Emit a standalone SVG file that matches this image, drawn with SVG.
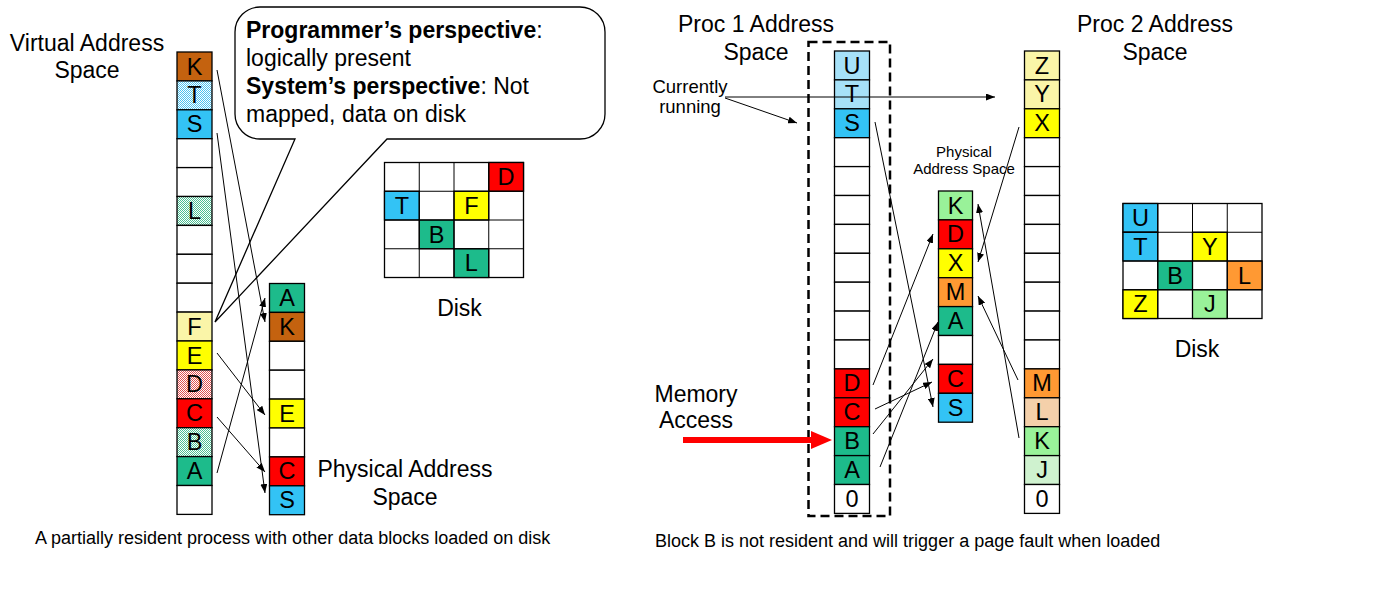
<svg xmlns="http://www.w3.org/2000/svg" width="1400" height="600" viewBox="0 0 1400 600">
<defs>
<style>
text{font-family:"Liberation Sans",Arial,sans-serif;fill:#000}
.lbl{font-size:23px;text-anchor:middle}
.cl{font-size:23.5px;text-anchor:middle}
.cell{stroke:#000;stroke-width:1.3}
.w{fill:#fff}
.brown{fill:#c4620f}
.blue{fill:#33c3f5}
.teal{fill:#1dbb8b}
.red{fill:#ff0000}
.yel{fill:#ffff00}
.pyel{fill:#faf5a8}
.org{fill:#ff9933}
.lgr{fill:#99f299}
.conn{fill:none;stroke:#000;stroke-width:1}
.callout{font-size:23px}
.cap{font-size:18px}
</style>
<pattern id="pBlue" width="2" height="2" patternUnits="userSpaceOnUse"><rect width="2" height="2" fill="#4cc2f0"/><rect width="1" height="1" fill="#fff"/><rect x="1" y="1" width="1" height="1" fill="#fff"/></pattern>
<pattern id="pTeal" width="2" height="2" patternUnits="userSpaceOnUse"><rect width="2" height="2" fill="#4bbf93"/><rect width="1" height="1" fill="#fff"/><rect x="1" y="1" width="1" height="1" fill="#fff"/></pattern>
<pattern id="pRed" width="2" height="2" patternUnits="userSpaceOnUse"><rect width="2" height="2" fill="#e05050"/><rect width="1" height="1" fill="#fff"/><rect x="1" y="1" width="1" height="1" fill="#fff"/></pattern>
<pattern id="pPeach" width="2" height="2" patternUnits="userSpaceOnUse"><rect width="2" height="2" fill="#e8a155"/><rect width="1" height="1" fill="#fff"/><rect x="1" y="1" width="1" height="1" fill="#fff"/></pattern>
<pattern id="pGreen" width="2" height="2" patternUnits="userSpaceOnUse"><rect width="2" height="2" fill="#9fe59f"/><rect width="1" height="1" fill="#fff"/><rect x="1" y="1" width="1" height="1" fill="#fff"/></pattern>
<marker id="ah" markerUnits="userSpaceOnUse" markerWidth="9" markerHeight="7" refX="9" refY="3.5" orient="auto"><path d="M0,0 L9,3.5 L0,7 z" fill="#000"/></marker>
</defs>
<rect width="1400" height="600" fill="#fff"/>

<!-- Left: virtual address space -->
<g id="virtual-label"><text class="lbl" x="87" y="51">Virtual Address</text><text class="lbl" x="87" y="78">Space</text></g>
<g id="virtual-space" transform="translate(177,52)">
<rect class="cell brown" x="0" y="0" width="35" height="28.9"/><text class="cl" x="17.5" y="22.5">K</text>
<rect class="cell" fill="url(#pBlue)" x="0" y="28.9" width="35" height="28.9"/><text class="cl" x="17.5" y="51.4">T</text>
<rect class="cell blue" x="0" y="57.8" width="35" height="28.9"/><text class="cl" x="17.5" y="80.3">S</text>
<rect class="cell w" x="0" y="86.7" width="35" height="28.9"/>
<rect class="cell w" x="0" y="115.6" width="35" height="28.9"/>
<rect class="cell" fill="url(#pTeal)" x="0" y="144.5" width="35" height="28.9"/><text class="cl" x="17.5" y="167">L</text>
<rect class="cell w" x="0" y="173.4" width="35" height="28.9"/>
<rect class="cell w" x="0" y="202.3" width="35" height="28.9"/>
<rect class="cell w" x="0" y="231.2" width="35" height="28.9"/>
<rect class="cell pyel" x="0" y="260.1" width="35" height="28.9"/><text class="cl" x="17.5" y="282.6">F</text>
<rect class="cell yel" x="0" y="289" width="35" height="28.9"/><text class="cl" x="17.5" y="311.5">E</text>
<rect class="cell" fill="url(#pRed)" x="0" y="317.9" width="35" height="28.9"/><text class="cl" x="17.5" y="340.4">D</text>
<rect class="cell red" x="0" y="346.8" width="35" height="28.9"/><text class="cl" x="17.5" y="369.3">C</text>
<rect class="cell" fill="url(#pTeal)" x="0" y="375.7" width="35" height="28.9"/><text class="cl" x="17.5" y="398.2">B</text>
<rect class="cell teal" x="0" y="404.6" width="35" height="28.9"/><text class="cl" x="17.5" y="427.1">A</text>
<rect class="cell w" x="0" y="433.5" width="35" height="28.9"/>
</g>

<!-- Left: callout -->
<g id="callout">
<path d="M260,7 H580 A25,25 0 0 1 605,32 V114 A25,25 0 0 1 580,139 H387 L215,322 L295,139 H260 A25,25 0 0 1 235,114 V32 A25,25 0 0 1 260,7 Z" fill="#fff" stroke="#000" stroke-width="1.3"/>
<text class="callout" x="246" y="38"><tspan font-weight="bold">Programmer’s perspective</tspan>:</text>
<text class="callout" x="246" y="66">logically present</text>
<text class="callout" x="246" y="94"><tspan font-weight="bold">System’s perspective</tspan>: Not</text>
<text class="callout" x="246" y="122">mapped, data on disk</text>
</g>

<!-- Left: physical address space -->
<g id="physical-space-1" transform="translate(269.5,283.5)">
<rect class="cell teal" x="0" y="0" width="35" height="28.9"/><text class="cl" x="17.5" y="22.5">A</text>
<rect class="cell brown" x="0" y="28.9" width="35" height="28.9"/><text class="cl" x="17.5" y="51.4">K</text>
<rect class="cell w" x="0" y="57.8" width="35" height="28.9"/>
<rect class="cell w" x="0" y="86.7" width="35" height="28.9"/>
<rect class="cell yel" x="0" y="115.6" width="35" height="28.9"/><text class="cl" x="17.5" y="138.1">E</text>
<rect class="cell w" x="0" y="144.5" width="35" height="28.9"/>
<rect class="cell red" x="0" y="173.4" width="35" height="28.9"/><text class="cl" x="17.5" y="195.9">C</text>
<rect class="cell blue" x="0" y="202.3" width="35" height="28.9"/><text class="cl" x="17.5" y="224.8">S</text>
</g>
<g id="physical-label-1"><text class="lbl" x="405" y="477">Physical Address</text><text class="lbl" x="405" y="505">Space</text></g>

<!-- Left: disk -->
<g id="disk-1" transform="translate(384.5,162.5)">
<rect class="cell w" x="0" y="0" width="139" height="115"/>
<rect class="cell red" x="104.25" y="0" width="34.75" height="28.75"/><text class="cl" x="121.6" y="22.5">D</text>
<rect class="cell blue" x="0" y="28.75" width="34.75" height="28.75"/><text class="cl" x="17.4" y="51.2">T</text>
<rect class="cell yel" x="69.5" y="28.75" width="34.75" height="28.75"/><text class="cl" x="86.9" y="51.2">F</text>
<rect class="cell teal" x="34.75" y="57.5" width="34.75" height="28.75"/><text class="cl" x="52.1" y="80">B</text>
<rect class="cell teal" x="69.5" y="86.25" width="34.75" height="28.75"/><text class="cl" x="86.9" y="108.7">L</text>
<path class="conn" d="M34.75,0 V115 M69.5,0 V115 M104.25,0 V115 M0,28.75 H139 M0,57.5 H139 M0,86.25 H139" stroke-width="1.3"/>
<text class="lbl" x="75" y="153">Disk</text>
</g>

<g id="caption-1"><text class="cap" x="35" y="544">A partially resident process with other data blocks loaded on disk</text></g>

<!-- Right: Proc 1 -->
<g id="proc1-label"><text class="lbl" x="756" y="32">Proc 1 Address</text><text class="lbl" x="756" y="60">Space</text></g>
<g id="currently-running"><text x="690" y="92.5" font-size="18.5" text-anchor="middle">Currently</text><text x="690" y="113" font-size="18.5" text-anchor="middle">running</text></g>
<g id="proc1-space" transform="translate(834.5,51)">
<rect class="cell" fill="url(#pBlue)" x="0" y="0" width="35" height="28.9"/><text class="cl" x="17.5" y="22.5">U</text>
<rect class="cell" fill="url(#pBlue)" x="0" y="28.9" width="35" height="28.9"/><text class="cl" x="17.5" y="51.4">T</text>
<rect class="cell blue" x="0" y="57.8" width="35" height="28.9"/><text class="cl" x="17.5" y="80.3">S</text>
<rect class="cell w" x="0" y="86.7" width="35" height="28.9"/>
<rect class="cell w" x="0" y="115.6" width="35" height="28.9"/>
<rect class="cell w" x="0" y="144.5" width="35" height="28.9"/>
<rect class="cell w" x="0" y="173.4" width="35" height="28.9"/>
<rect class="cell w" x="0" y="202.3" width="35" height="28.9"/>
<rect class="cell w" x="0" y="231.2" width="35" height="28.9"/>
<rect class="cell w" x="0" y="260.1" width="35" height="28.9"/>
<rect class="cell w" x="0" y="289" width="35" height="28.9"/>
<rect class="cell red" x="0" y="317.9" width="35" height="28.9"/><text class="cl" x="17.5" y="340.4">D</text>
<rect class="cell red" x="0" y="346.8" width="35" height="28.9"/><text class="cl" x="17.5" y="369.3">C</text>
<rect class="cell teal" x="0" y="375.7" width="35" height="28.9"/><text class="cl" x="17.5" y="398.2">B</text>
<rect class="cell teal" x="0" y="404.6" width="35" height="28.9"/><text class="cl" x="17.5" y="427.1">A</text>
<rect class="cell w" x="0" y="433.5" width="35" height="28.9"/><text class="cl" x="17.5" y="456">0</text>
</g>
<g id="proc1-running-box"><rect x="808.5" y="42" width="81.5" height="474" fill="none" stroke="#000" stroke-width="2.5" stroke-dasharray="9,5"/></g>
<g id="memory-access"><text class="lbl" x="696" y="402">Memory</text><text class="lbl" x="696" y="428">Access</text></g>

<!-- Right: physical -->
<g id="physical-label-2"><text x="964" y="157" font-size="15" text-anchor="middle">Physical</text><text x="964" y="174" font-size="15" text-anchor="middle">Address Space</text></g>
<g id="physical-space-2" transform="translate(938.5,191)">
<rect class="cell lgr" x="0" y="0" width="34" height="28.9"/><text class="cl" x="17" y="22.5">K</text>
<rect class="cell red" x="0" y="28.9" width="34" height="28.9"/><text class="cl" x="17" y="51.4">D</text>
<rect class="cell yel" x="0" y="57.8" width="34" height="28.9"/><text class="cl" x="17" y="80.3">X</text>
<rect class="cell org" x="0" y="86.7" width="34" height="28.9"/><text class="cl" x="17" y="109.2">M</text>
<rect class="cell teal" x="0" y="115.6" width="34" height="28.9"/><text class="cl" x="17" y="138.1">A</text>
<rect class="cell w" x="0" y="144.5" width="34" height="28.9"/>
<rect class="cell red" x="0" y="173.4" width="34" height="28.9"/><text class="cl" x="17" y="195.9">C</text>
<rect class="cell blue" x="0" y="202.3" width="34" height="28.9"/><text class="cl" x="17" y="224.8">S</text>
</g>

<!-- Right: Proc 2 -->
<g id="proc2-label"><text class="lbl" x="1155" y="32">Proc 2 Address</text><text class="lbl" x="1155" y="60">Space</text></g>
<g id="proc2-space" transform="translate(1024.5,51)">
<rect class="cell pyel" x="0" y="0" width="35" height="28.9"/><text class="cl" x="17.5" y="22.5">Z</text>
<rect class="cell pyel" x="0" y="28.9" width="35" height="28.9"/><text class="cl" x="17.5" y="51.4">Y</text>
<rect class="cell yel" x="0" y="57.8" width="35" height="28.9"/><text class="cl" x="17.5" y="80.3">X</text>
<rect class="cell w" x="0" y="86.7" width="35" height="28.9"/>
<rect class="cell w" x="0" y="115.6" width="35" height="28.9"/>
<rect class="cell w" x="0" y="144.5" width="35" height="28.9"/>
<rect class="cell w" x="0" y="173.4" width="35" height="28.9"/>
<rect class="cell w" x="0" y="202.3" width="35" height="28.9"/>
<rect class="cell w" x="0" y="231.2" width="35" height="28.9"/>
<rect class="cell w" x="0" y="260.1" width="35" height="28.9"/>
<rect class="cell w" x="0" y="289" width="35" height="28.9"/>
<rect class="cell org" x="0" y="317.9" width="35" height="28.9"/><text class="cl" x="17.5" y="340.4">M</text>
<rect class="cell" fill="url(#pPeach)" x="0" y="346.8" width="35" height="28.9"/><text class="cl" x="17.5" y="369.3">L</text>
<rect class="cell lgr" x="0" y="375.7" width="35" height="28.9"/><text class="cl" x="17.5" y="398.2">K</text>
<rect class="cell" fill="url(#pGreen)" x="0" y="404.6" width="35" height="28.9"/><text class="cl" x="17.5" y="427.1">J</text>
<rect class="cell w" x="0" y="433.5" width="35" height="28.9"/><text class="cl" x="17.5" y="456">0</text>
</g>

<!-- Right: disk -->
<g id="disk-2" transform="translate(1123,203.5)">
<rect class="cell w" x="0" y="0" width="139" height="115"/>
<rect class="cell blue" x="0" y="0" width="34.75" height="28.75"/><text class="cl" x="17.4" y="22.5">U</text>
<rect class="cell blue" x="0" y="28.75" width="34.75" height="28.75"/><text class="cl" x="17.4" y="51.2">T</text>
<rect class="cell yel" x="69.5" y="28.75" width="34.75" height="28.75"/><text class="cl" x="86.9" y="51.2">Y</text>
<rect class="cell teal" x="34.75" y="57.5" width="34.75" height="28.75"/><text class="cl" x="52.1" y="80">B</text>
<rect class="cell org" x="104.25" y="57.5" width="34.75" height="28.75"/><text class="cl" x="121.6" y="80">L</text>
<rect class="cell yel" x="0" y="86.25" width="34.75" height="28.75"/><text class="cl" x="17.4" y="108.7">Z</text>
<rect class="cell lgr" x="69.5" y="86.25" width="34.75" height="28.75"/><text class="cl" x="86.9" y="108.7">J</text>
<path class="conn" d="M34.75,0 V115 M69.5,0 V115 M104.25,0 V115 M0,28.75 H139 M0,57.5 H139 M0,86.25 H139" stroke-width="1.3"/>
<text class="lbl" x="74" y="153">Disk</text>
</g>

<g id="caption-2"><text class="cap" x="655" y="547">Block B is not resident and will trigger a page fault when loaded</text></g>

<!-- Connectors -->
<g id="connectors">
<path class="conn" marker-end="url(#ah)" d="M217,70 L265,322"/>
<path class="conn" marker-end="url(#ah)" d="M217,133 L265,493"/>
<path class="conn" marker-end="url(#ah)" d="M217,353 L265,415"/>
<path class="conn" marker-end="url(#ah)" d="M217,417 L265,472"/>
<path class="conn" marker-end="url(#ah)" d="M217,473 L265,298"/>
<path class="conn" marker-end="url(#ah)" d="M725,97 L995,97"/>
<path class="conn" marker-end="url(#ah)" d="M725,98 L797,123"/>
<path class="conn" marker-end="url(#ah)" d="M875,122 L933,407"/>
<path class="conn" marker-end="url(#ah)" d="M873,385 L933,234"/>
<path class="conn" marker-end="url(#ah)" d="M875,409 L932,382"/>
<path class="conn" marker-end="url(#ah)" d="M873,434 L933,359"/>
<path class="conn" marker-end="url(#ah)" d="M880,467 L938,322"/>
<path class="conn" marker-end="url(#ah)" d="M1019,127 L978,262"/>
<path class="conn" marker-end="url(#ah)" d="M1018,380 L978,296"/>
<path class="conn" marker-end="url(#ah)" d="M1019,438 L978,204"/>
<path d="M683,440 H813" stroke="#ff0000" stroke-width="6" fill="none"/>
<polygon points="811,431 832,440 811,449" fill="#ff0000"/>
</g>
</svg>
